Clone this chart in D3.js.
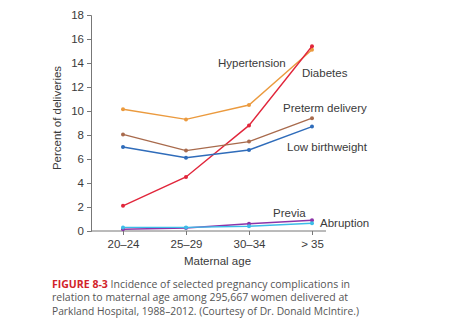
<!DOCTYPE html>
<html>
<head>
<meta charset="utf-8">
<script src="https://cdn.jsdelivr.net/npm/d3@7"></script>
<style>
  html, body { margin: 0; padding: 0; background: #fff; }
  svg { display: block; }
  text { font-family: "Liberation Sans", Arial, sans-serif; fill: #3a3a3a; }
  .cap { font-family: "Open Sans", "Liberation Sans", sans-serif; fill: #555; }
</style>
</head>
<body>
<svg id="chart" width="450" height="328"></svg>
<script>
// Maternal age groups and complication rates (% of deliveries)
const ageGroups = ["20–24", "25–29", "30–34", "> 35"];
const yTicks = [0, 2, 4, 6, 8, 10, 12, 14, 16, 18];

const hypertension   = [10.15, 9.3, 10.5, 15.1];
const diabetes       = [2.1, 4.5, 8.8, 15.4];
const pretermDelivery = [8.05, 6.7, 7.45, 9.4];
const lowBirthweight = [7.0, 6.1, 6.75, 8.7];
const previa         = [0.15, 0.25, 0.6, 0.9];
const abruption      = [0.3, 0.3, 0.4, 0.65];

const seriesNames  = ["Hypertension", "Diabetes", "Preterm delivery", "Low birthweight", "Previa", "Abruption"];
const seriesValues = [hypertension, diabetes, pretermDelivery, lowBirthweight, previa, abruption];
const seriesColors = ["#eb9a3e", "#e1263b", "#a86a4c", "#2f6cba", "#8c34a8", "#3cbde8"];

const svg = d3.select("#chart");

const x = d3.scalePoint().domain(ageGroups).range([123, 312]);
const y = d3.scaleLinear().domain([0, 18]).range([231, 15]);

// Y axis
const yAxis = svg.append("g").attr("transform", "translate(91,0)")
  .call(d3.axisLeft(y).tickValues(yTicks).tickSize(4).tickPadding(3));
yAxis.select(".domain").attr("stroke", "#777");
yAxis.selectAll(".tick line").attr("stroke", "#777");
yAxis.selectAll(".tick text").attr("font-size", 11.5).attr("fill", "#3a3a3a")
  .attr("font-family", "Liberation Sans, Arial, sans-serif");

// X axis
const xAxis = svg.append("g").attr("transform", "translate(0,231)")
  .call(d3.axisBottom(x).tickSize(4).tickPadding(5));
xAxis.select(".domain").attr("d", "M91,0H326").attr("stroke", "#777");
xAxis.selectAll(".tick line").attr("stroke", "#777");
xAxis.selectAll(".tick text").attr("font-size", 11.5).attr("fill", "#3a3a3a")
  .attr("font-family", "Liberation Sans, Arial, sans-serif");

// Axis titles
svg.append("text")
  .attr("transform", "translate(61,118) rotate(-90)")
  .attr("text-anchor", "middle").attr("font-size", 11.5)
  .text("Percent of deliveries");
svg.append("text")
  .attr("x", x("25–29") + (x("30–34") - x("25–29")) / 2).attr("y", 265)
  .attr("text-anchor", "middle").attr("font-size", 11.5)
  .text("Maternal age");

// Lines and point markers
const line = d3.line().x((d, i) => x(ageGroups[i])).y(d => y(d));
seriesValues.forEach((vals, k) => {
  svg.append("path").datum(vals)
    .attr("fill", "none").attr("stroke", seriesColors[k])
    .attr("stroke-width", 1.4).attr("d", line);
  svg.selectAll(null).data(vals).enter().append("circle")
    .attr("cx", (d, i) => x(ageGroups[i])).attr("cy", d => y(d))
    .attr("r", 2).attr("fill", seriesColors[k]);
});

// Series labels, placed relative to the last two age groups
const labelPos = [
  { name: "Hypertension",     dx: x("30–34") - 31, v: 13.7 },
  { name: "Diabetes",         dx: x("> 35") - 10, v: 12.8 },
  { name: "Preterm delivery", dx: x("> 35") - 29, v: 9.95 },
  { name: "Low birthweight",  dx: x("> 35") - 25, v: 6.65 },
  { name: "Previa",           dx: x("30–34") + 24, v: 1.2 },
  { name: "Abruption",        dx: x("> 35") + 8, v: 0.35 }
];
svg.selectAll(null).data(labelPos).enter().append("text")
  .attr("x", d => d.dx).attr("y", d => y(d.v))
  .attr("font-size", 11.5)
  .text(d => d.name);

// Caption
const capLines = [
  "Incidence of selected pregnancy complications in",
  "relation to maternal age among 295,667 women delivered at",
  "Parkland Hospital, 1988–2012. (Courtesy of Dr. Donald McIntire.)"
];
const cap = svg.append("g").attr("class", "caption");
const t0 = cap.append("text").attr("class", "cap").attr("x", 52).attr("y", 288).attr("font-size", 10.5);
t0.append("tspan").attr("fill", "#d2232a").attr("font-weight", "bold").text("FIGURE 8-3 ");
t0.append("tspan").text(capLines[0]);
t0.attr("textLength", 298).attr("lengthAdjust", "spacingAndGlyphs");
cap.append("text").attr("class", "cap").attr("x", 52).attr("y", 301).attr("font-size", 10.5)
  .attr("textLength", 296).attr("lengthAdjust", "spacingAndGlyphs").text(capLines[1]);
cap.append("text").attr("class", "cap").attr("x", 52).attr("y", 315).attr("font-size", 10.5)
  .attr("textLength", 307).attr("lengthAdjust", "spacingAndGlyphs").text(capLines[2]);
</script>
</body>
</html>
